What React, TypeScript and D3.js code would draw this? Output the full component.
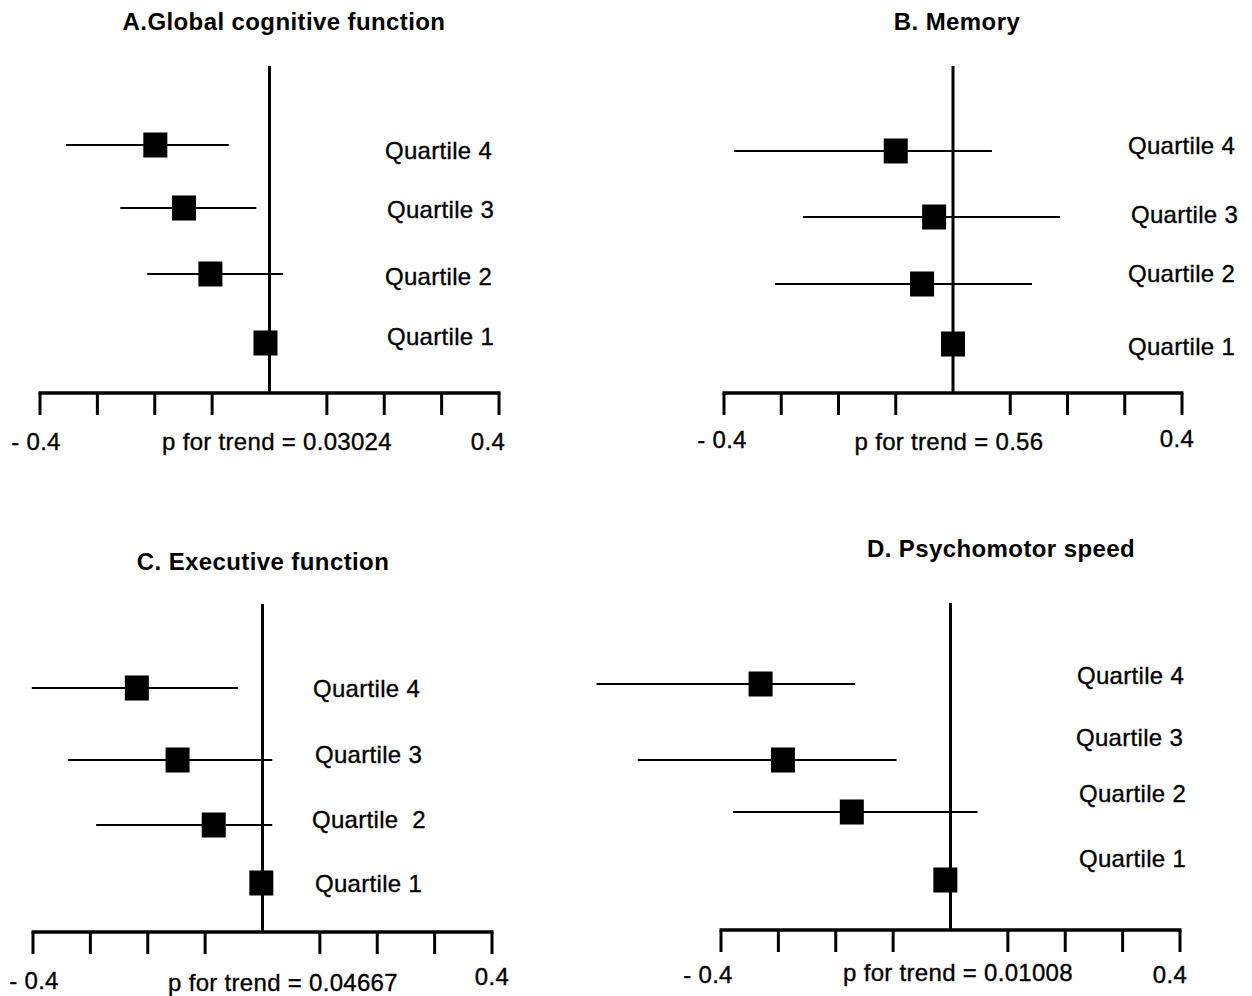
import * as d3 from "d3";

// categories (top row to bottom row)
const quartiles = ["Quartile 4", "Quartile 3", "Quartile 2", "Quartile 1"];
const quartileLabelsC = ["Quartile 4", "Quartile 3", "Quartile  2", "Quartile 1"];

// A. Global cognitive function
const globalEst = [-0.199, -0.149, -0.103, -0.007];
const globalLo = [-0.355, -0.26, -0.213, -0.007];
const globalHi = [-0.071, -0.023, 0.024, -0.007];

// B. Memory
const memoryEst = [-0.1, -0.033, -0.054, 0.0];
const memoryLo = [-0.382, -0.262, -0.311, 0.0];
const memoryHi = [0.068, 0.187, 0.138, 0.0];

// C. Executive function
const execEst = [-0.219, -0.148, -0.085, -0.002];
const execLo = [-0.402, -0.339, -0.29, -0.002];
const execHi = [-0.043, 0.017, 0.017, -0.002];

// D. Psychomotor speed
const psychoEst = [-0.331, -0.292, -0.172, -0.009];
const psychoLo = [-0.617, -0.545, -0.379, -0.009];
const psychoHi = [-0.166, -0.094, 0.047, -0.009];

const tickValues = [-0.4, -0.3, -0.2, -0.1, 0.1, 0.2, 0.3, 0.4];
const endLabels = ["- 0.4", "0.4"];

const FONT = "'Liberation Sans', Arial, Helvetica, sans-serif";

interface PanelProps {
  title: string;
  trend: string;
  labels: string[];
  est: number[];
  lo: number[];
  hi: number[];
  // layout
  x0: number;
  x1: number;
  axisY: number;
  topY: number;
  rowY: number[];
  labelX: number[];
  labelY: number[];
  titleX: number;
  titleY: number;
  trendX: number;
  trendY: number;
  endX: number[];
  endY: number[];
}

// plain text styling, a bit heavier and wider like the scanned figure
const txt = {
  fontSize: 24,
  fontFamily: FONT,
  letterSpacing: 0.3,
  stroke: "#000",
  strokeWidth: 0.35,
  fill: "#000",
};

const Panel = (p: PanelProps) => {
  const x = d3.scaleLinear().domain([-0.4, 0.4]).range([p.x0, p.x1]);
  const sq = 24;
  return (
    <g>
      <text x={p.titleX} y={p.titleY} textAnchor="middle" fontWeight="bold" fontSize={24}
        fontFamily={FONT} letterSpacing={0.4}>
        {p.title}
      </text>
      {/* reference line at zero */}
      <line x1={x(0)} x2={x(0)} y1={p.topY} y2={p.axisY} stroke="#000" strokeWidth={3} />
      {/* axis */}
      <line x1={p.x0 - 1.5} x2={p.x1 + 1.5} y1={p.axisY} y2={p.axisY} stroke="#000" strokeWidth={3.5} />
      {tickValues.map(t => (
        <line key={t} x1={x(t)} x2={x(t)} y1={p.axisY} y2={p.axisY + 22} stroke="#000" strokeWidth={3} />
      ))}
      {p.est.map((e, i) => (
        <g key={i}>
          {p.hi[i] > p.lo[i] && (
            <line x1={x(p.lo[i])} x2={x(p.hi[i])} y1={p.rowY[i]} y2={p.rowY[i]} stroke="#000" strokeWidth={2} />
          )}
          <rect x={x(e) - sq / 2} y={p.rowY[i] - 12.5} width={sq} height={25} fill="#000" />
        </g>
      ))}
      {p.labels.map((l, i) => (
        <text key={i} x={p.labelX[i]} y={p.labelY[i]} dominantBaseline="central" {...txt}
          style={{ whiteSpace: "pre" }}>
          {l}
        </text>
      ))}
      <text x={p.endX[0]} y={p.endY[0]} textAnchor="middle" {...txt} style={{ whiteSpace: "pre" }}>
        {endLabels[0]}
      </text>
      <text x={p.endX[1]} y={p.endY[1]} textAnchor="middle" {...txt}>
        {endLabels[1]}
      </text>
      <text x={p.trendX} y={p.trendY} textAnchor="middle" {...txt}>
        {p.trend}
      </text>
    </g>
  );
};

export default function App() {
  return (
    <svg width={1252} height={996} style={{ position: "absolute", left: 0, top: 0, background: "#fff" }}>
      <rect width={1252} height={996} fill="#fff" />
      <Panel
        title="A.Global cognitive function" trend="p for trend = 0.03024"
        labels={quartiles} est={globalEst} lo={globalLo} hi={globalHi}
        x0={40} x1={499} axisY={393} topY={66}
        rowY={[145, 208, 274, 343]}
        labelX={[385, 387, 385, 387]} labelY={[150, 209, 276, 336]}
        titleX={284} titleY={30} trendX={277} trendY={450}
        endX={[36, 488]} endY={[450, 450]}
      />
      <Panel
        title="B. Memory" trend="p for trend = 0.56"
        labels={quartiles} est={memoryEst} lo={memoryLo} hi={memoryHi}
        x0={724} x1={1182} axisY={393} topY={66}
        rowY={[151, 217, 284, 344]}
        labelX={[1128, 1131, 1128, 1128]} labelY={[145, 214, 273, 346]}
        titleX={957} titleY={30} trendX={949} trendY={450}
        endX={[722, 1177]} endY={[448, 447]}
      />
      <Panel
        title="C. Executive function" trend="p for trend = 0.04667"
        labels={quartileLabelsC} est={execEst} lo={execLo} hi={execHi}
        x0={33} x1={492} axisY={932} topY={604}
        rowY={[688, 760, 825, 883]}
        labelX={[313, 315, 312, 315]} labelY={[688, 754, 819, 883]}
        titleX={263} titleY={570} trendX={283} trendY={991}
        endX={[34, 492]} endY={[989, 985]}
      />
      <Panel
        title="D. Psychomotor speed" trend="p for trend = 0.01008"
        labels={quartiles} est={psychoEst} lo={psychoLo} hi={psychoHi}
        x0={721} x1={1180} axisY={930} topY={603}
        rowY={[684, 760, 812, 880]}
        labelX={[1077, 1076, 1079, 1079]} labelY={[675, 737, 793, 858]}
        titleX={1001} titleY={557} trendX={958} trendY={981}
        endX={[708, 1170]} endY={[983, 983]}
      />
    </svg>
  );
}
